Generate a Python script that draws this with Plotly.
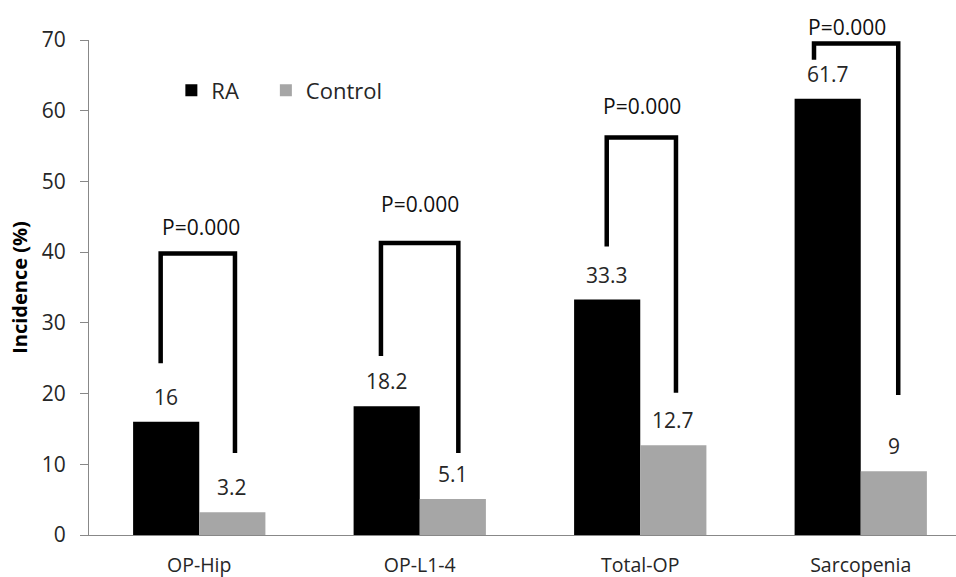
import plotly.graph_objects as go

categories = ["OP-Hip", "OP-L1-4", "Total-OP", "Sarcopenia"]
ra_values = [16, 18.2, 33.3, 61.7]
control_values = [3.2, 5.1, 12.7, 9]
ra_labels = ["16", "18.2", "33.3", "61.7"]
control_labels = ["3.2", "5.1", "12.7", "9"]
p_labels = ["P=0.000", "P=0.000", "P=0.000", "P=0.000"]
y_ticks = [0, 10, 20, 30, 40, 50, 60, 70]

# bracket levels (data units)
bracket_top = [39.8, 41.3, 56.2, 69.5]
bracket_left_end = [24.3, 25.3, 40.8, 67.2]
bracket_right_end = [11.6, 11.6, 20.1, 19.8]
bracket_left_dx = [-0.175, -0.176, -0.152, -0.212]
bracket_right_dx = [0.162, 0.175, 0.162, 0.170]
p_label_y = [43.5, 46.8, 60.7, 71.9]
p_label_dx = [0.007, 0.001, 0.006, -0.063]

Y_MAX = 70
FONT = "Open Sans"
TXT = "#262626"
x_idx = list(range(len(categories)))

fig = go.Figure()
fig.add_trace(go.Bar(x=x_idx, y=ra_values, name="RA", legend="legend",
                     marker=dict(color="#000000", line=dict(width=0))))
fig.add_trace(go.Bar(x=x_idx, y=control_values, name="Control", legend="legend2",
                     marker=dict(color="#a6a6a6", line=dict(width=0))))

annotations = []
for i in x_idx:
    xl = i + bracket_left_dx[i]
    xr = i + bracket_right_dx[i]
    fig.add_trace(go.Scatter(
        x=[xl, xl, xr, xr],
        y=[bracket_left_end[i], bracket_top[i], bracket_top[i], bracket_right_end[i]],
        mode="lines", line=dict(color="#000000", width=4.5),
        showlegend=False, hoverinfo="skip", cliponaxis=False))
    annotations.append(dict(x=i - 0.15, y=ra_values[i], text=ra_labels[i], showarrow=False,
                            yanchor="middle", yshift=25, font=dict(family=FONT, size=21, color=TXT)))
    annotations.append(dict(x=i + 0.15, y=control_values[i], text=control_labels[i], showarrow=False,
                            yanchor="middle", yshift=25, font=dict(family=FONT, size=21, color=TXT)))
    annotations.append(dict(x=i + p_label_dx[i], xref="x", y=p_label_y[i] / Y_MAX, yref="y domain",
                            text=p_labels[i], showarrow=False, yanchor="middle",
                            font=dict(family=FONT, size=21, color="#111111")))

legend_common = dict(orientation="h", xanchor="left", y=0.898, yanchor="middle",
                     font=dict(family=FONT, size=22, color=TXT), bgcolor="rgba(0,0,0,0)")

fig.update_layout(
    width=956, height=577,
    margin=dict(l=89, r=0, t=40, b=42),
    paper_bgcolor="white", plot_bgcolor="white",
    barmode="group", bargap=0.4, bargroupgap=0,
    font=dict(family=FONT, color=TXT),
    annotations=annotations,
    legend=dict(x=0.095, **legend_common),
    legend2=dict(x=0.204, **legend_common),
    xaxis=dict(range=[-0.5, 3.432], tickmode="array", tickvals=x_idx, ticktext=categories,
               showline=True, linecolor="#888888", linewidth=1, ticks="", showgrid=False,
               zeroline=False, automargin=False,
               tickfont=dict(family=FONT, size=19.5, color=TXT), ticklabelstandoff=13),
    yaxis=dict(range=[0, Y_MAX], tickmode="array", tickvals=y_ticks, showline=True,
               linecolor="#888888", linewidth=1, ticks="outside", ticklen=8, tickcolor="#888888",
               showgrid=False, zeroline=False, automargin=False,
               tickfont=dict(family=FONT, size=21, color=TXT), ticklabelstandoff=10,
               title=dict(text="<b>Incidence (%)</b>", font=dict(family=FONT, size=20, color="#000000"),
                          standoff=8)),
)

fig.write_html("out.html", config={"displayModeBar": False},
               post_script="document.body.style.margin='0';document.body.style.overflow='hidden';")
